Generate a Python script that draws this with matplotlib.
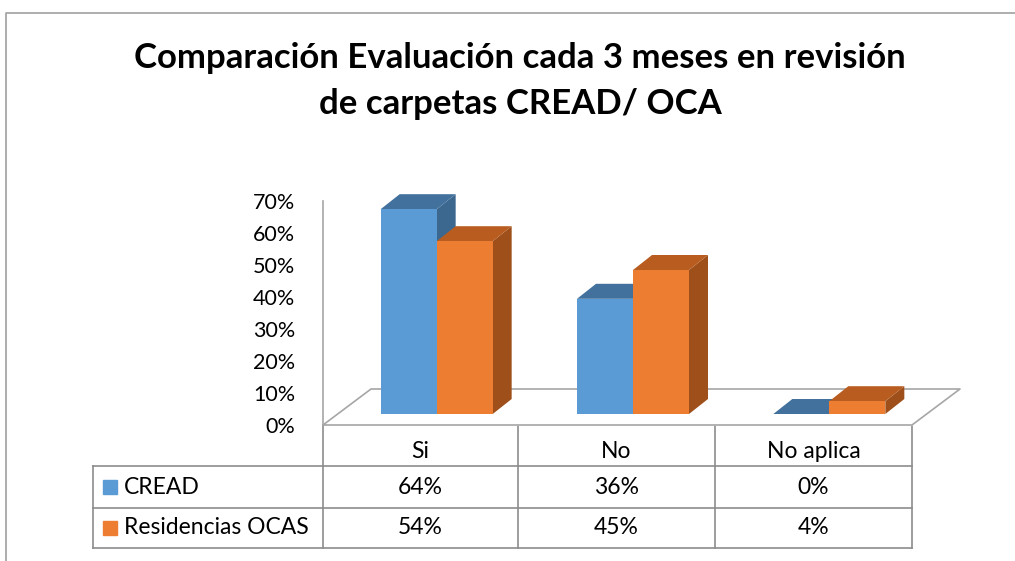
import matplotlib
matplotlib.use("Agg")
import matplotlib.pyplot as plt

categories = ["Si", "No", "No aplica"]
series_names = ["CREAD", "Residencias OCAS"]
cread = [0.64, 0.36, 0.00]
ocas = [0.54, 0.45, 0.04]
yticks = [0, 0.1, 0.2, 0.3, 0.4, 0.5, 0.6, 0.7]
title = "Comparación Evaluación cada 3 meses en revisión\nde carpetas CREAD/ OCA"

W, H = 1015, 561
plt.rcParams['font.family'] = ['Lato', 'DejaVu Sans']

fig = plt.figure(figsize=(W / 100, H / 100), dpi=100)

# background axes in pixel coords (border, title, data table)
ax0 = fig.add_axes([0, 0, 1, 1])
ax0.set_xlim(0, W)
ax0.set_ylim(H, 0)
ax0.axis("off")

border = "#A0A0A0"
ax0.plot([6, 6, W], [H, 13, 13], color=border, lw=1.2)

lines = title.split("\n")
ax0.text(520, 68, lines[0], ha="center", va="baseline", fontsize=25, fontweight="bold")
ax0.text(520, 114, lines[1], ha="center", va="baseline", fontsize=25, fontweight="bold")

# plot axes: front plane of the 3D chart
left, right, y0, y70 = 323, 912, 425, 201
ax = fig.add_axes([left / W, (H - y0) / H, (right - left) / W, (y0 - y70) / H])
ax.patch.set_alpha(0)
ax.set_xlim(-0.5, 2.5)
ax.set_ylim(0, 0.7)
ax.set_xticks([])
ax.set_yticks(yticks)
ax.set_yticklabels([f"{int(round(v * 100))}%" for v in yticks], fontsize=15.5)
ax.tick_params(axis="y", length=0, pad=20)
for s in ["top", "right", "bottom"]:
    ax.spines[s].set_visible(False)
ax.spines["left"].set_color("#A6A6A6")
ax.spines["left"].set_linewidth(1.2)

px = 3.0 / (right - left)      # data units per pixel, x
py = 0.7 / (y0 - y70)          # data units per pixel, y

# floor
fdx, fdy = 48 * px, 36 * py
floor_x = [-0.5, 2.5, 2.5 + fdx, -0.5 + fdx, -0.5]
floor_y = [0, 0, fdy, fdy, 0]
ax.fill(floor_x, floor_y, color="white", zorder=1, clip_on=False)
ax.plot(floor_x, floor_y, color="#A6A6A6", lw=1.2, zorder=1.5, clip_on=False)

# bars
front = ["#5B9BD5", "#ED7D31"]
top = ["#41719C", "#B85D1F"]
side = ["#3C6890", "#9E4F1A"]
bw = 56 * px
base = 11 * py
ddx, ddy = 19 * px, 15 * py
shift = 15.5 * px

for i in range(len(categories)):
    for k, vals in enumerate([cread, ocas]):
        v = vals[i]
        x0 = i + shift - bw + k * bw
        x1 = x0 + bw
        yt = base + v
        ax.fill([x1, x1 + ddx, x1 + ddx, x1], [base, base + ddy, yt + ddy, yt],
                color=side[k], zorder=2 + i + 0.1 * k, clip_on=False, lw=0)
        ax.fill([x0, x1, x1 + ddx, x0 + ddx], [yt, yt, yt + ddy, yt + ddy],
                color=top[k], zorder=2 + i + 0.1 * k, clip_on=False, lw=0)
        ax.bar(x0, v, width=bw, bottom=base, align="edge", color=front[k],
               zorder=2.05 + i + 0.1 * k, clip_on=False)

# data table
tcol = "#8C8C8C"
cols = [323, 518, 715, 912]
rows = [466, 508, 548]
for xc in cols:
    ax0.plot([xc, xc], [425, 548], color=tcol, lw=1.2)
ax0.plot([93, 93], [466, 548], color=tcol, lw=1.2)
for yr in rows:
    ax0.plot([93, 912], [yr, yr], color=tcol, lw=1.2)

centers = [(cols[j] + cols[j + 1]) / 2 for j in range(3)]
for j, c in enumerate(categories):
    ax0.text(centers[j], 451, c, ha="center", va="center", fontsize=16.5)
for r, (name, vals) in enumerate(zip(series_names, [cread, ocas])):
    yc = (rows[r] + rows[r + 1]) / 2
    ax0.add_patch(plt.Rectangle((103, yc - 7), 14, 14, color=front[r]))
    ax0.text(124, yc, name, ha="left", va="center", fontsize=16.5)
    for j, v in enumerate(vals):
        ax0.text(centers[j], yc, f"{int(round(v * 100))}%", ha="center", va="center", fontsize=16.5)

fig.savefig("out.png", dpi=100)
